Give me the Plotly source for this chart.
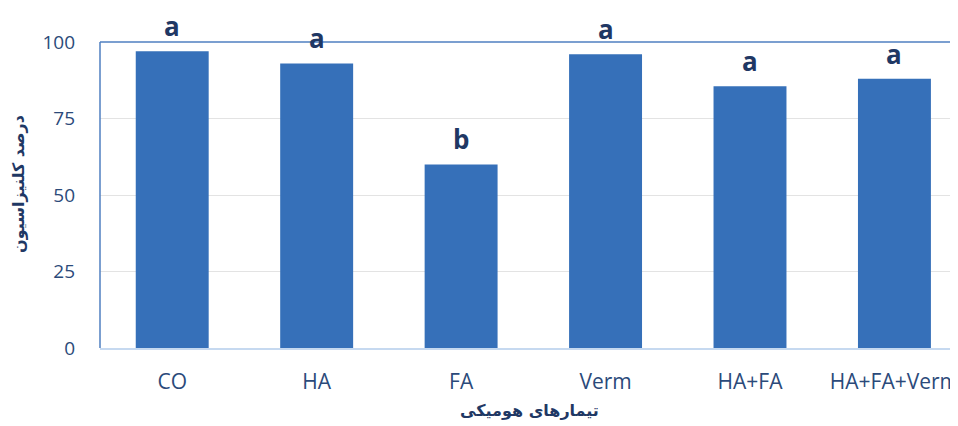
import plotly.graph_objects as go

categories = ["CO", "HA", "FA", "Verm", "HA+FA", "HA+FA+Verm"]
values = [97, 93, 60, 96, 85.5, 88]
letters = ["a", "a", "b", "a", "a", "a"]
y_ticks = [0, 25, 50, 75, 100]
x_title = "تیمارهای هومیکی"
y_title = "درصد کلنیزاسیون"

navy = "#1F3864"
tick_col = "#2B4A7A"

fig = go.Figure()
fig.add_trace(go.Bar(
    x=list(range(len(categories))), y=values,
    width=0.505,
    marker=dict(color="#3670B9", line=dict(width=0)),
    hoverinfo="skip",
))

for i, (v, t) in enumerate(zip(values, letters)):
    fig.add_annotation(x=i, y=v, text=f"<b>{t}</b>", showarrow=False,
                       yanchor="middle", yshift=25, borderpad=0,
                       font=dict(family="Open Sans, DejaVu Sans", size=26, color=navy))

fig.add_annotation(xref="paper", yref="paper", x=0, y=0.5, xshift=-82, yshift=11,
                   xanchor="center", yanchor="middle",
                   text=f"<b>{y_title}</b>", textangle=-90, showarrow=False,
                   font=dict(family="DejaVu Sans", size=16, color=navy))
fig.add_annotation(xref="paper", yref="paper", x=0.5, y=0, yshift=-62,
                   xanchor="center", yanchor="middle",
                   text=f"<b>{x_title}</b>", showarrow=False,
                   font=dict(family="DejaVu Sans", size=16, color=navy))

# plot-area border (left and top)
fig.add_shape(type="line", xref="paper", yref="paper", x0=0, x1=0, y0=0, y1=1,
              line=dict(color="#4F7FC0", width=1.5), layer="above")
fig.add_shape(type="line", xref="paper", yref="paper", x0=0, x1=1, y0=1, y1=1,
              line=dict(color="#4F7FC0", width=1.5), layer="above")

fig.update_layout(
    width=950, height=418,
    margin=dict(l=92, r=0, t=34, b=78),
    plot_bgcolor="white", paper_bgcolor="white",
    showlegend=False,
    xaxis=dict(range=[-0.5, 5.44], tickmode="array",
               tickvals=list(range(len(categories))), ticktext=categories,
               showgrid=False, zeroline=False, showline=True,
               linecolor="#C6D9F0", linewidth=2, ticks="",
               ticklabelstandoff=14, ticklabeloverflow="allow",
               tickfont=dict(family="Open Sans", size=21, color=tick_col)),
    yaxis=dict(range=[0, 100], tickmode="array", tickvals=y_ticks,
               showgrid=True, gridcolor="#E3E3E3", gridwidth=1,
               zeroline=False, showline=False, ticks="",
               ticklabelstandoff=24,
               tickfont=dict(family="Open Sans", size=19, color=tick_col)),
)

fig.write_html("out.html")
